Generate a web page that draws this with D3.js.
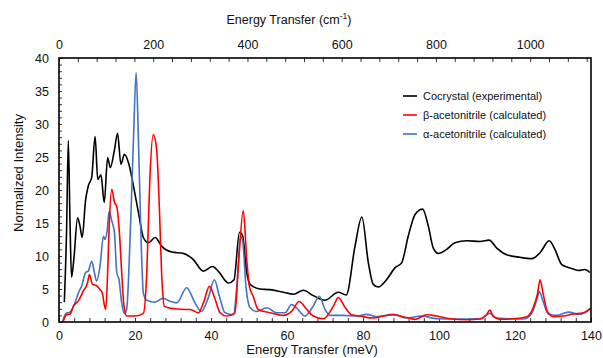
<!DOCTYPE html>
<html>
<head>
<meta charset="utf-8">
<script src="https://cdn.jsdelivr.net/npm/d3@7"></script>
<style>
  body { margin: 0; background: #fff; }
  svg text { font-family: "Liberation Sans", Arial, sans-serif; fill: #111; }
</style>
</head>
<body>
<div id="chart"></div>
<script>
// Energy transfer in meV, normalized intensity
const cocrystal = [
  [1.4, 3.0], [2.0, 14], [2.45, 27.5], [2.9, 15], [3.3, 6.8], [3.9, 9.5], [4.9, 15.8], [5.5, 14.6],
  [6.1, 12.8], [7.0, 18.5], [7.7, 20.6], [8.6, 21.9], [9.5, 28.1], [10.2, 21.6], [11.05, 22.3],
  [11.9, 18.1], [12.8, 24.9], [13.5, 23.4], [14.6, 26.1], [15.4, 28.6], [16.3, 23.9], [17.2, 25.4],
  [18.4, 23.9], [19.6, 20.6], [20.9, 16.6], [22.2, 12.8], [23.5, 12.0], [25.3, 12.8], [27.0, 11.5],
  [29.7, 10.6], [32.7, 10.4], [35.3, 9.5], [38.0, 7.7], [40.4, 8.4], [41.9, 7.7], [44.6, 5.9],
  [46.05, 6.4], [47.5, 13.6], [48.3, 13.1], [49.4, 7.5], [50.3, 5.7], [52.9, 5.0], [55.5, 4.9],
  [59.0, 4.5], [61.7, 4.2], [64.3, 4.8], [66.9, 4.0], [70.0, 3.3], [73.5, 4.5], [75.6, 4.1],
  [77.9, 11.5], [79.7, 15.9], [81.4, 9.0], [82.7, 5.7], [84.0, 5.3], [86.2, 6.4], [88.4, 8.2],
  [90.2, 9.0], [91.9, 13.0], [93.7, 16.3], [95.7, 17.1], [97.2, 14.5], [98.5, 11.2], [99.8, 10.4],
  [102.0, 11.0], [104.2, 12.0], [107.3, 12.3], [110.8, 12.2], [113.2, 12.4], [115.2, 11.2],
  [117.8, 10.2], [121.3, 9.8], [124.4, 9.6], [126.6, 10.5], [129.0, 12.3], [130.5, 11.0],
  [132.3, 8.7], [134.5, 8.2], [136.7, 7.8], [138.4, 7.95], [139.7, 7.5]
];

const betaCalc = [
  [1.1, 0.1], [2.0, 1.1], [2.9, 1.2], [3.8, 2.4], [5.1, 3.2], [6.4, 4.7], [7.5, 5.9], [8.0, 7.2],
  [8.8, 5.7], [9.9, 5.5], [10.8, 4.9], [11.4, 4.4], [11.9, 2.65], [12.3, 1.9], [12.8, 7.5],
  [13.2, 14.5], [13.9, 20.1], [14.6, 18.1], [15.2, 17.5], [15.9, 13.5], [16.5, 7.5], [17.1, 2.4],
  [17.8, 0.9], [20.0, 0.9], [22.2, 1.3], [23.1, 7.5], [23.9, 21.6], [24.8, 28.4], [25.7, 26.1],
  [26.4, 17.5], [27.0, 7.5], [27.7, 2.4], [28.8, 2.15], [30.5, 2.0], [33.2, 1.9], [34.5, 1.9],
  [36.7, 1.4], [38.0, 2.9], [39.6, 5.4], [41.1, 3.4], [42.4, 1.4], [44.1, 0.9], [46.3, 1.4],
  [47.2, 8.5], [48.5, 16.9], [49.4, 9.5], [50.1, 5.4], [51.1, 3.9], [52.4, 1.9], [55.5, 1.4],
  [59.0, 1.0], [61.2, 1.6], [63.2, 3.1], [65.2, 1.9], [66.9, 0.9], [69.6, 0.5], [72.2, 2.4],
  [73.5, 3.7], [75.3, 2.2], [77.0, 1.1], [79.2, 0.9], [82.7, 0.6], [85.3, 0.9], [88.0, 1.1],
  [90.6, 0.8], [93.7, 0.4], [96.8, 1.1], [99.4, 0.9], [102.9, 0.5], [107.3, 0.35], [110.8, 0.45],
  [112.5, 1.1], [113.4, 1.8], [114.3, 0.8], [116.1, 0.4], [119.6, 0.5], [123.1, 0.8], [124.8, 2.2],
  [125.9, 4.2], [126.6, 6.4], [127.4, 4.3], [128.5, 1.6], [130.1, 0.8], [132.7, 0.9], [135.3, 1.2],
  [138.0, 1.4], [139.9, 2.1]
];

const alphaCalc = [
  [0.9, 0.0], [1.8, 1.3], [2.9, 1.5], [4.2, 2.9], [5.1, 4.4], [6.0, 5.5], [7.0, 7.5], [7.7, 7.7],
  [8.6, 9.2], [9.3, 7.5], [9.9, 6.2], [10.8, 8.5], [11.7, 13.0], [12.1, 12.5], [12.7, 14.0],
  [13.2, 16.8], [13.9, 15.3], [14.6, 13.5], [15.2, 7.5], [15.8, 6.4], [16.5, 2.9], [17.2, 1.3],
  [17.8, 1.9], [18.7, 12.5], [19.6, 27.7], [20.3, 37.8], [20.9, 27.7], [21.6, 12.5], [22.2, 4.4],
  [23.1, 3.3], [25.3, 3.0], [27.4, 3.6], [29.2, 3.15], [31.0, 2.9], [33.6, 5.2], [35.8, 2.9],
  [37.5, 1.6], [39.3, 3.7], [40.9, 6.4], [42.2, 3.9], [43.7, 1.4], [45.9, 1.1], [46.8, 5.4],
  [47.8, 13.0], [48.3, 12.4], [49.2, 5.4], [50.3, 2.15], [52.0, 1.6], [54.7, 2.15], [57.3, 1.4],
  [59.5, 1.4], [61.2, 2.65], [62.5, 2.15], [64.7, 0.9], [66.9, 2.4], [68.5, 3.9], [70.0, 1.9],
  [71.3, 1.0], [74.8, 1.0], [78.3, 0.9], [81.0, 1.15], [83.6, 0.8], [88.0, 1.15], [91.5, 0.6],
  [95.4, 0.9], [99.4, 0.5], [104.7, 0.45], [110.8, 0.5], [113.4, 1.3], [115.2, 0.6], [122.2, 0.45],
  [124.4, 1.3], [125.9, 3.7], [126.4, 4.6], [127.4, 3.1], [128.8, 1.2], [131.0, 1.0], [134.0, 1.5],
  [137.1, 1.15], [139.7, 1.9]
];

const series = [
  { name: 'Cocrystal (experimental)', data: cocrystal, color: '#000000' },
  { name: 'β-acetonitrile (calculated)', data: betaCalc, color: '#ff0000' },
  { name: 'α-acetonitrile (calculated)', data: alphaCalc, color: '#4472c4' }
];

const meVTicks = [0, 20, 40, 60, 80, 100, 120, 140];
const cmTicks = [0, 200, 400, 600, 800, 1000];
const yTicks = [0, 5, 10, 15, 20, 25, 30, 35, 40];
const MEV_TO_CM = 8.0655;

const W = 603, H = 358;
const m = { left: 59, right: 12, top: 58, bottom: 36 };

const svg = d3.select('#chart').append('svg')
  .attr('width', W).attr('height', H);

const x = d3.scaleLinear().domain([0, 140]).range([m.left, W - m.right]);
const xCm = d3.scaleLinear().domain([0, 140 * MEV_TO_CM]).range([m.left, W - m.right]);
const y = d3.scaleLinear().domain([0, 40]).range([H - m.bottom, m.top]);

// minor ticks (inward)
svg.append('g')
  .attr('transform', `translate(0,${H - m.bottom})`)
  .call(d3.axisBottom(x).tickValues(d3.range(0, 141, 4)).tickSize(-4).tickFormat(''))
  .call(g => g.select('.domain').remove())
  .call(g => g.selectAll('line').attr('stroke', '#333'));

svg.append('g')
  .attr('transform', `translate(0,${m.top})`)
  .call(d3.axisTop(xCm).tickValues(d3.range(0, 1130, 40)).tickSize(-4).tickFormat(''))
  .call(g => g.select('.domain').remove())
  .call(g => g.selectAll('line').attr('stroke', '#333'));

svg.append('g')
  .attr('transform', `translate(${m.left},0)`)
  .call(d3.axisLeft(y).tickValues(d3.range(0, 41, 1)).tickSize(-3).tickFormat(''))
  .call(g => g.select('.domain').remove())
  .call(g => g.selectAll('line').attr('stroke', '#333'));

// labels
svg.append('g')
  .attr('transform', `translate(0,${H - m.bottom})`)
  .call(d3.axisBottom(x).tickValues(meVTicks).tickSize(0).tickPadding(9).tickFormat(d3.format('d')))
  .call(g => g.select('.domain').remove())
  .call(g => g.selectAll('text').attr('font-size', 12.5));

svg.append('g')
  .attr('transform', `translate(0,${m.top})`)
  .call(d3.axisTop(xCm).tickValues(cmTicks).tickSize(0).tickPadding(9).tickFormat(d3.format('d')))
  .call(g => g.select('.domain').remove())
  .call(g => g.selectAll('text').attr('font-size', 12.5));

svg.append('g')
  .attr('transform', `translate(${m.left},0)`)
  .call(d3.axisLeft(y).tickValues(yTicks).tickSize(0).tickPadding(10))
  .call(g => g.select('.domain').remove())
  .call(g => g.selectAll('text').attr('font-size', 12.5));

// data lines
const line = d3.line()
  .x(d => x(d[0]))
  .y(d => y(d[1]))
  .curve(d3.curveMonotoneX);

svg.append('defs').append('clipPath').attr('id', 'plot')
  .append('rect')
  .attr('x', m.left).attr('y', m.top)
  .attr('width', W - m.left - m.right).attr('height', H - m.top - m.bottom);

const plot = svg.append('g').attr('clip-path', 'url(#plot)');
// black first, then blue, red on top
[series[0], series[2], series[1]].forEach(s => {
  plot.append('path')
    .datum(s.data)
    .attr('fill', 'none')
    .attr('stroke', s.color)
    .attr('stroke-width', 1.6)
    .attr('stroke-linejoin', 'round')
    .attr('d', line);
});

// frame
svg.append('rect')
  .attr('x', m.left).attr('y', m.top)
  .attr('width', W - m.left - m.right).attr('height', H - m.top - m.bottom)
  .attr('fill', 'none')
  .attr('stroke', '#000')
  .attr('stroke-width', 1.6);

// titles
svg.append('text')
  .attr('x', 312).attr('y', 354)
  .attr('text-anchor', 'middle')
  .attr('font-size', 13)
  .text('Energy Transfer (meV)');

const topTitle = svg.append('text')
  .attr('x', 289).attr('y', 24)
  .attr('text-anchor', 'middle')
  .attr('font-size', 12.5);
topTitle.append('tspan').text('Energy Transfer (cm');
topTitle.append('tspan').attr('font-size', 8.5).attr('dy', -5).text('-1');
topTitle.append('tspan').attr('dy', 5).text(')');

svg.append('text')
  .attr('transform', 'translate(23,173) rotate(-90)')
  .attr('text-anchor', 'middle')
  .attr('font-size', 13)
  .text('Normalized Intensity');

// legend
const legend = svg.append('g').attr('transform', 'translate(403,96)');
series.forEach((s, i) => {
  const row = legend.append('g').attr('transform', `translate(0,${i * 19})`);
  row.append('line')
    .attr('x1', 0).attr('x2', 14)
    .attr('stroke', s.color).attr('stroke-width', 1.6);
  row.append('text')
    .attr('x', 20).attr('dy', '0.35em')
    .attr('font-size', 11)
    .text(s.name);
});
</script>
</body>
</html>
